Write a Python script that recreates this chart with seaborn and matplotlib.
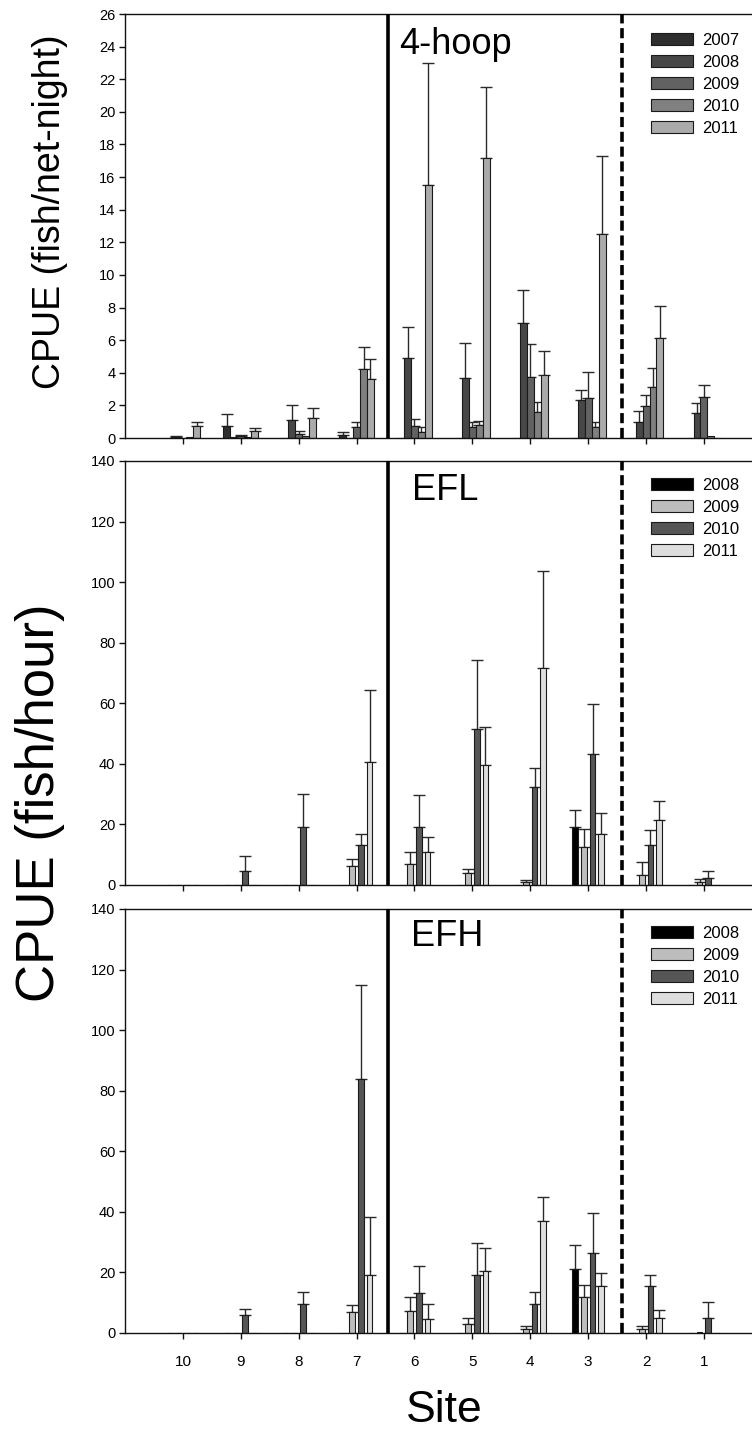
import numpy as np
import pandas as pd
import matplotlib
matplotlib.use("Agg")
import matplotlib.pyplot as plt
import seaborn as sns

sns.set_style("ticks")
plt.rcParams['font.family'] = ['Liberation Sans', 'DejaVu Sans']
plt.rcParams['text.color'] = 'black'
plt.rcParams['xtick.color'] = 'black'
plt.rcParams['ytick.color'] = 'black'
plt.rcParams['axes.labelcolor'] = 'black'

# ---------------- data ----------------
sites = ['10', '9', '8', '7', '6', '5', '4', '3', '2', '1']

hoop_years = ['2007', '2008', '2009', '2010', '2011']
hoop_2007 = [0.00, 0.72, 0.00, 0.16, 0.00, 0.00, 0.00, 0.00, 0.00, 0.00]
hoop_2008 = [0.05, 0.05, 1.10, 0.00, 4.90, 3.66, 7.07, 2.33, 0.98, 1.55]
hoop_2009 = [0.03, 0.10, 0.25, 0.65, 0.76, 0.69, 3.72, 2.47, 1.96, 2.50]
hoop_2010 = [0.05, 0.05, 0.10, 4.23, 0.35, 0.78, 1.60, 0.67, 3.15, 0.10]
hoop_2011 = [0.75, 0.40, 1.20, 3.62, 15.50, 17.20, 3.88, 12.50, 6.13, 0.00]
hoop_2007_se = [0.00, 0.75, 0.00, 0.21, 0.00, 0.00, 0.00, 0.00, 0.00, 0.00]
hoop_2008_se = [0.07, 0.00, 0.94, 0.00, 1.90, 2.16, 2.00, 0.63, 0.65, 0.62]
hoop_2009_se = [0.00, 0.10, 0.15, 0.31, 0.42, 0.29, 2.02, 1.57, 0.70, 0.72]
hoop_2010_se = [0.00, 0.00, 0.00, 1.33, 0.30, 0.28, 0.59, 0.29, 1.16, 0.00]
hoop_2011_se = [0.25, 0.22, 0.64, 1.20, 7.48, 4.35, 1.43, 4.80, 1.94, 0.00]

ef_years = ['2008', '2009', '2010', '2011']
efl_2008 = [0, 0, 0, 0, 0, 0, 0, 19.2, 0, 0]
efl_2009 = [0, 0, 0, 6.3, 6.8, 3.85, 1.1, 12.7, 3.4, 1.0]
efl_2010 = [0, 4.7, 19.2, 13.2, 19.1, 51.5, 32.3, 43.2, 13.2, 2.3]
efl_2011 = [0, 0, 0, 40.7, 10.8, 39.6, 71.8, 16.7, 21.5, 0]
efl_2008_se = [0, 0, 0, 0, 0, 0, 0, 5.5, 0, 0]
efl_2009_se = [0, 0, 0, 2.2, 4.2, 1.35, 0.55, 5.8, 4.1, 0.9]
efl_2010_se = [0, 4.9, 10.9, 3.5, 10.6, 22.7, 6.4, 16.6, 4.8, 2.4]
efl_2011_se = [0, 0, 0, 23.8, 5.1, 12.7, 32.0, 7.1, 6.2, 0]

efh_2008 = [0, 0, 0, 0, 0, 0, 0, 21.1, 0, 0]
efh_2009 = [0, 0, 0, 6.9, 7.4, 3.1, 1.3, 11.8, 1.3, 0.3]
efh_2010 = [0, 6.0, 9.6, 83.8, 13.2, 19.1, 9.6, 26.4, 15.4, 4.8]
efh_2011 = [0, 0, 0, 19.1, 4.7, 20.4, 37.1, 15.6, 4.8, 0]
efh_2008_se = [0, 0, 0, 0, 0, 0, 0, 7.8, 0, 0]
efh_2009_se = [0, 0, 0, 2.2, 4.4, 2.0, 1.0, 4.2, 0.9, 0]
efh_2010_se = [0, 1.9, 4.0, 31.1, 9.0, 10.5, 4.0, 13.3, 3.6, 5.6]
efh_2011_se = [0, 0, 0, 19.3, 4.9, 7.6, 7.7, 4.1, 2.9, 0]

hoop_colors = ['#2e2e2e', '#474747', '#626262', '#808080', '#ababab']
ef_colors = ['#000000', '#bdbdbd', '#565656', '#dedede']

panel_titles = ['4-hoop', 'EFL', 'EFH']
ylabel_top = 'CPUE (fish/net-night)'
ylabel_ef = 'CPUE (fish/hour)'
xlabel = 'Site'


def long_df(years, vals, ses):
    rows = []
    for y, v, s in zip(years, vals, ses):
        for site, vv, ss in zip(sites, v, s):
            rows.append({'site': site, 'year': y, 'cpue': vv, 'se': ss})
    return pd.DataFrame(rows)


df_hoop = long_df(hoop_years, [hoop_2007, hoop_2008, hoop_2009, hoop_2010, hoop_2011],
                  [hoop_2007_se, hoop_2008_se, hoop_2009_se, hoop_2010_se, hoop_2011_se])
df_efl = long_df(ef_years, [efl_2008, efl_2009, efl_2010, efl_2011],
                 [efl_2008_se, efl_2009_se, efl_2010_se, efl_2011_se])
df_efh = long_df(ef_years, [efh_2008, efh_2009, efh_2010, efh_2011],
                 [efh_2008_se, efh_2009_se, efh_2010_se, efh_2011_se])

# ---------------- figure ----------------
W, H = 752, 1431
fig = plt.figure(figsize=(W / 100, H / 100), dpi=100)

def ax_rect(top_px, bot_px, left_px=125, right_px=752):
    return [left_px / W, 1 - bot_px / H, (right_px - left_px) / W, (bot_px - top_px) / H]

ax1 = fig.add_axes(ax_rect(14, 438))
ax2 = fig.add_axes(ax_rect(461, 885))
ax3 = fig.add_axes(ax_rect(909, 1333))

panels = [
    (ax1, df_hoop, hoop_years, hoop_colors, 0.0, (0, 26), np.arange(0, 27, 2)),
    (ax2, df_efl, ef_years, ef_colors, 0.35, (0, 140), np.arange(0, 141, 20)),
    (ax3, df_efh, ef_years, ef_colors, 0.35, (0, 140), np.arange(0, 141, 20)),
]

title_pos = [(399, 44), (412, 490), (411, 937)]

for i, (ax, df, years, colors, gap, ylim, yticks) in enumerate(panels):
    sns.barplot(data=df, x='site', y='cpue', hue='year', order=sites, hue_order=years,
                palette=colors, width=0.6, gap=gap, errorbar=None, saturation=1,
                edgecolor='#1a1a1a', linewidth=0.8, ax=ax, zorder=2)
    # one-sided error bars at bar centres
    for yi, (year, cont) in enumerate(zip(years, ax.containers)):
        sub = df[df['year'] == year].set_index('site').loc[sites]
        xs, ys, es = [], [], []
        for bar, (_, r) in zip(cont.patches, sub.iterrows()):
            if r['se'] > 0:
                xs.append(bar.get_x() + bar.get_width() / 2)
                ys.append(r['cpue'])
                es.append(r['se'])
        if xs:
            ax.errorbar(xs, ys, yerr=[np.zeros(len(es)), es], fmt='none',
                        ecolor='#2a2a2a', elinewidth=1.0, capsize=4.3, capthick=1.0, zorder=1)
    ax.set_xlim(-1.0, 9.83)
    ax.set_ylim(*ylim)
    ax.set_yticks(yticks)
    ax.set_xlabel('')
    ax.set_ylabel('')
    ax.axvline(3.55, color='black', lw=2.6, zorder=3)
    ax.axvline(7.58, color='black', lw=2.6, ls=(0, (2.8, 1.3)), zorder=3)
    ax.spines['right'].set_visible(False)
    for s in ['left', 'top', 'bottom']:
        ax.spines[s].set_linewidth(1.0)
        ax.spines[s].set_color('#111111')
    ax.tick_params(axis='both', direction='out', length=4, width=1, color='#111111',
                   labelcolor='black')
    ax.tick_params(axis='y', labelsize=10.5, pad=3)
    if i < 2:
        ax.tick_params(axis='x', labelbottom=False)
    else:
        ax.tick_params(axis='x', labelsize=11, pad=12)
    sns.move_legend(ax, 'upper left', bbox_to_anchor=((651 - 125) / 627, 1 - (19 if i == 0 else 17) / 424),
                    frameon=False, title=None, fontsize=12, handlelength=2.5,
                    handleheight=0.75, handletextpad=0.55, labelspacing=0.42, borderaxespad=0,
                    borderpad=0, labelcolor='black')
    tx, ty = title_pos[i]
    fig.text(tx / W, 1 - ty / H, panel_titles[i], fontsize=26, ha='left', va='center')

fig.text(50 / W, 1 - 212 / H, ylabel_top, rotation=90, fontsize=27, ha='center', va='center')
fig.text(40 / W, 1 - 803 / H, ylabel_ef, rotation=90, fontsize=38, ha='center', va='center')
fig.text(444 / W, 1 - 1410 / H, xlabel, fontsize=32, ha='center', va='center')

fig.savefig('out.png', dpi=100)
